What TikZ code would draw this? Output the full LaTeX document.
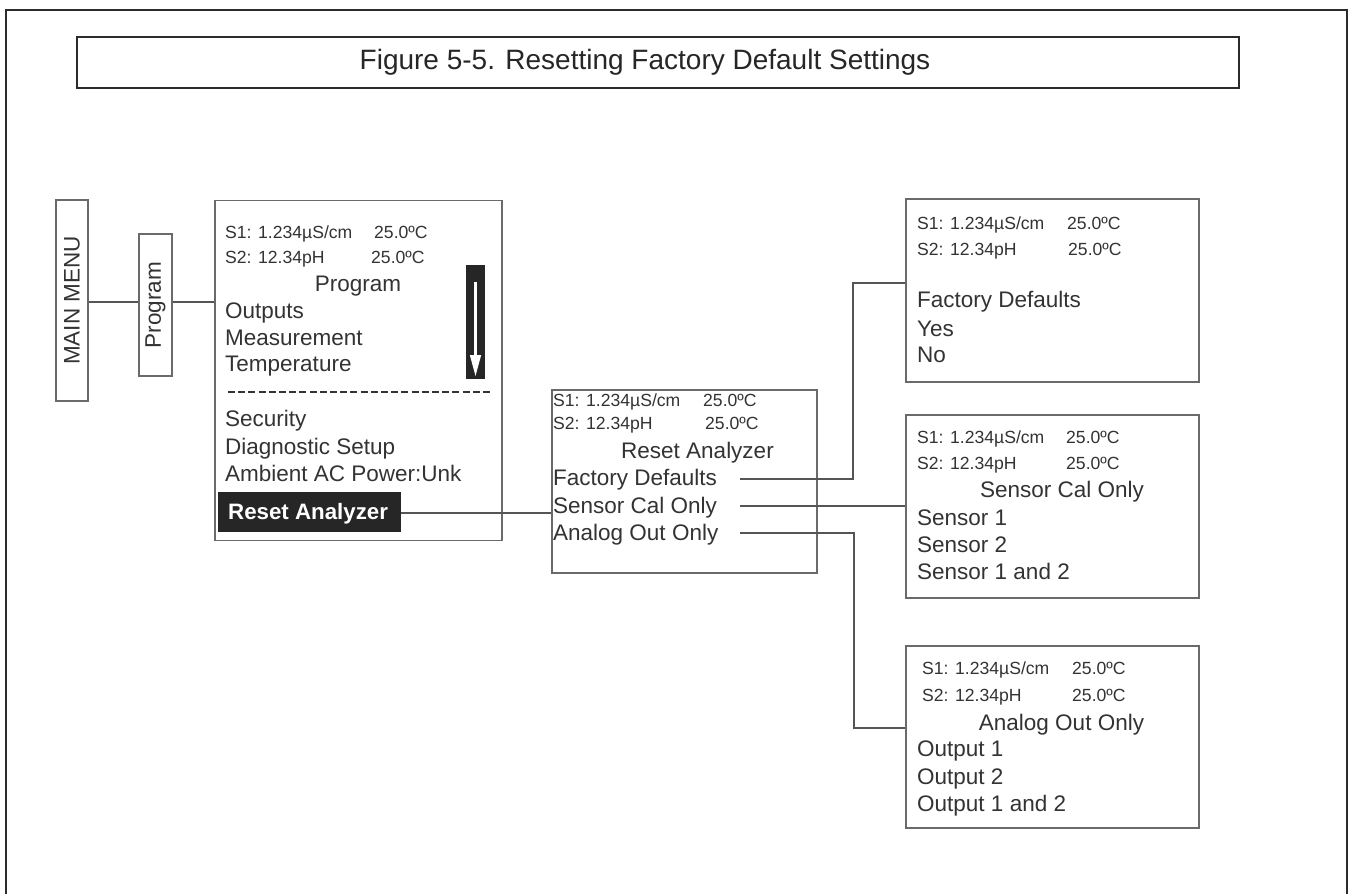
\documentclass[tikz,border=0pt]{standalone}
\usepackage{fontspec}
\setmainfont{Liberation Sans}
\definecolor{txt}{HTML}{333333}
\definecolor{edge}{HTML}{6A6A6A}
\definecolor{wire}{HTML}{555555}
\definecolor{frame}{HTML}{2B2B2B}
\begin{document}
\begin{tikzpicture}[x=1pt,y=-1pt,
  screen/.style={draw=edge,line width=1.6pt},
  big/.style={inner sep=0pt,anchor=base west,text=txt,font=\fontsize{22.5}{24}\selectfont},
  bigc/.style={inner sep=0pt,anchor=base,text=txt,font=\fontsize{22.5}{24}\selectfont},
  small/.style={inner sep=0pt,anchor=base west,text=txt,font=\fontsize{17.6}{20}\selectfont},
  wireline/.style={draw=wire,line width=1.4pt},
  vbox/.style={draw=edge,line width=1.6pt,inner sep=0pt,text=txt,font=\fontsize{22.5}{24}\selectfont,rotate=90,anchor=center}]
\useasboundingbox (0,0) rectangle (1350,894);
\fill[white] (0,0) rectangle (1350,894);
% outer frame
\draw[frame,line width=2.6pt] (6,894) -- (6,10) -- (1347,10) -- (1347,894);
% title
\node[draw=frame,line width=2.6pt,minimum width=1162pt,minimum height=51pt,inner sep=0pt] (title) at (658,62.5) {};
\node[inner sep=0pt,font=\fontsize{28}{30}\selectfont,text=black!85] (titletext) at (645,62.5) {Figure 5-5. Resetting Factory Default Settings};
% left vertical boxes
\node[vbox,minimum width=201pt,minimum height=32pt] (mm) at (72,300.5) {MAIN MENU};
\node[vbox,minimum width=142pt,minimum height=33pt] (prog) at (155.5,305) {Program};
% program screen
\node[screen,minimum width=287pt,minimum height=340pt,inner sep=0pt] (ps) at (358.5,370.5) {};
\node[small] (ps1) at (225,238.5) {S1: 1.234µS/cm};
\node[small] (ps1b) at (374,238.5) {25.0ºC};
\node[small] (ps2) at (225,263.5) {S2: 12.34pH};
\node[small] (ps2b) at (371,263.5) {25.0ºC};
\node[bigc] (pst) at (358,291) {Program};
\node[big] (po1) at (225,318) {Outputs};
\node[big] (po2) at (225,345) {Measurement};
\node[big] (po3) at (225,371) {Temperature};
\draw[txt,line width=2pt,dash pattern=on 7pt off 3.2pt] (228,392) -- (492,392);
\node[big] (po4) at (225,426) {Security};
\node[big] (po5) at (225,454) {Diagnostic Setup};
\node[big] (po6) at (225,481) {Ambient AC Power:Unk};
\node[fill=black!85,minimum width=183pt,minimum height=40pt,inner sep=0pt] (rabox) at (309.5,512) {};
\node[inner sep=0pt,anchor=base west,text=white,font=\fontsize{22.3}{24}\selectfont\bfseries] (ra) at (228,519) {Reset Analyzer};
% scroll arrow
\node[fill=black!85,minimum width=19pt,minimum height=114pt,inner sep=0pt] (bar) at (475.5,322) {};
\draw[white,line width=3pt] (475.5,282) -- (475.5,358);
\fill[white] (469.8,355) -- (481.2,355) -- (475.5,376) -- cycle;
% reset analyzer screen
\node[screen,minimum width=265pt,minimum height=183pt,inner sep=0pt] (rs) at (684.5,481.5) {};
\node[small] (rs1) at (553,406.5) {S1: 1.234µS/cm};
\node[small] (rs1b) at (703,406.5) {25.0ºC};
\node[small] (rs2) at (553,429.5) {S2: 12.34pH};
\node[small] (rs2b) at (705,429.5) {25.0ºC};
\node[bigc] (rst) at (697.5,458) {Reset Analyzer};
\node[big] (rfd) at (553,485) {Factory Defaults};
\node[big] (rsc) at (553,513) {Sensor Cal Only};
\node[big] (rao) at (553,540) {Analog Out Only};
% factory defaults screen
\node[screen,minimum width=293pt,minimum height=183pt,inner sep=0pt] (fs) at (1052.5,290.5) {};
\node[small] (fs1) at (917,229.5) {S1: 1.234µS/cm};
\node[small] (fs1b) at (1067,229.5) {25.0ºC};
\node[small] (fs2) at (917,255.5) {S2: 12.34pH};
\node[small] (fs2b) at (1068,255.5) {25.0ºC};
\node[big] (ff) at (917,307) {Factory Defaults};
\node[big] (fy) at (917,336) {Yes};
\node[big] (fn) at (917,362) {No};
% sensor cal screen
\node[screen,minimum width=293pt,minimum height=183pt,inner sep=0pt] (ss) at (1052.5,506.5) {};
\node[small] (ss1) at (917,443.5) {S1: 1.234µS/cm};
\node[small] (ss1b) at (1066,443.5) {25.0ºC};
\node[small] (ss2) at (917,469.5) {S2: 12.34pH};
\node[small] (ss2b) at (1066,469.5) {25.0ºC};
\node[bigc] (sst) at (1062,497) {Sensor Cal Only};
\node[big] (so1) at (917,525) {Sensor 1};
\node[big] (so2) at (917,552) {Sensor 2};
\node[big] (so3) at (917,579) {Sensor 1 and 2};
% analog out screen
\node[screen,minimum width=293pt,minimum height=182pt,inner sep=0pt] (as) at (1052.5,737) {};
\node[small] (as1) at (922,674.5) {S1: 1.234µS/cm};
\node[small] (as1b) at (1072,674.5) {25.0ºC};
\node[small] (as2) at (922,701.5) {S2: 12.34pH};
\node[small] (as2b) at (1072,701.5) {25.0ºC};
\node[bigc] (ast) at (1061.5,730) {Analog Out Only};
\node[big] (ao1) at (917,756) {Output 1};
\node[big] (ao2) at (917,784) {Output 2};
\node[big] (ao3) at (917,811) {Output 1 and 2};
% connectors
\coordinate (cfd) at (740,479);
\coordinate (csc) at (740,506);
\coordinate (cao) at (740,533);
\draw[wireline] (mm.south |- 0,302) -- (prog.north |- 0,302);
\draw[wireline] (prog.south |- 0,302) -- (ps.west |- 0,302);
\draw[wireline] (rabox.east |- 0,513) -- (rs.west |- 0,513);
\draw[wireline] (cfd) -- (853,479) -- (853,283) -- (fs.west |- 0,283);
\draw[wireline] (csc) -- (ss.west |- 0,506);
\draw[wireline] (cao) -- (854,533) -- (854,728) -- (as.west |- 0,728);
\end{tikzpicture}
\end{document}
